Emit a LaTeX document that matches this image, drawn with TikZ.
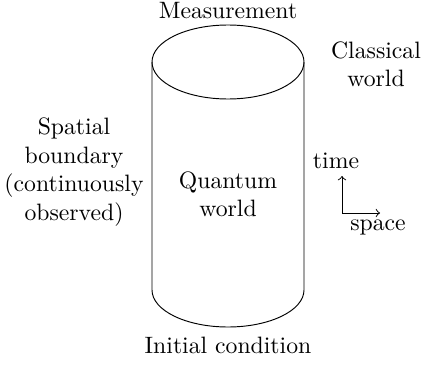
\documentclass[tikz,border=0pt]{standalone}
\begin{document}
\begin{tikzpicture}[x=0.4219pt,y=-0.4219pt,
  lbl/.style={align=center,inner sep=0pt},
  axis/.style={->,line width=0.4pt}]
\useasboundingbox (0,0) rectangle (427,364);
% cylinder
\draw (152,62) arc[start angle=180,end angle=-180,x radius=76,y radius=37];
\draw (152,62) -- (152,290) arc[start angle=180,end angle=0,x radius=76,y radius=37] -- (304,62);
\node[lbl] (meas) at (228,11) {Measurement};
\node[lbl] (init) at (228,345) {Initial condition};
\node[lbl] (quant) at (228,194) {Quantum\\world};
\node[lbl] (class) at (376,64) {Classical\\world};
\node[lbl] (spat) at (74,172) {Spatial\\boundary\\(continuously\\observed)};
\node[lbl] (time) at (336,161) {time};
\node[lbl] (space) at (378,227) {space};
\coordinate (o) at (342,213);
\coordinate (tup) at (342,176);
\coordinate (tright) at (380,213);
\draw[axis] (o) -- (tup);
\draw[axis] (o) -- (tright);
\end{tikzpicture}
\end{document}
